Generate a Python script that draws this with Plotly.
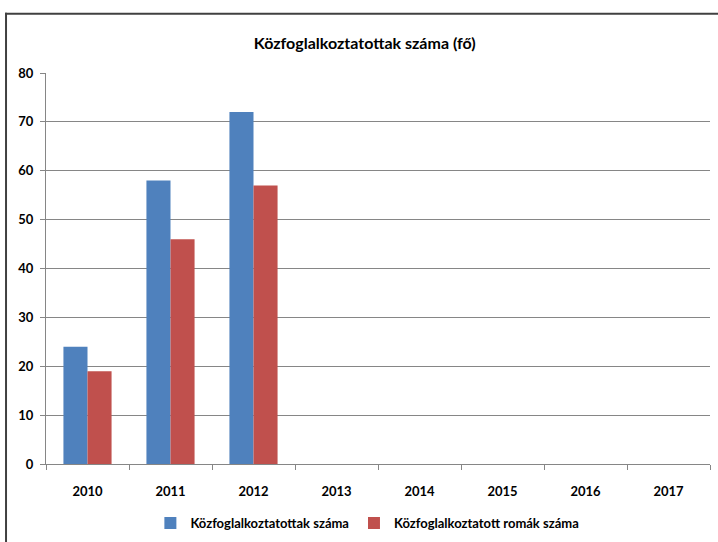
import plotly.graph_objects as go

# chart data
years = ['2010', '2011', '2012', '2013', '2014', '2015', '2016', '2017']
kozfogl = [24, 58, 72, None, None, None, None, None]      # Közfoglalkoztatottak száma
romak = [19, 46, 57, None, None, None, None, None]        # Közfoglalkoztatott romák száma

font_main = 'Lato, sans-serif'

fig = go.Figure()
fig.add_trace(go.Bar(x=years, y=kozfogl, name='<b>Közfoglalkoztatottak száma</b>',
                     marker=dict(color='#4F81BD', line=dict(width=0))))
fig.add_trace(go.Bar(x=years, y=romak, name='<b>Közfoglalkoztatott romák száma</b>',
                     marker=dict(color='#C0504D', line=dict(width=0))))

# chart frame (top and left edges show, the rest is cut off in the original)
frame = dict(type='rect', xref='paper', yref='paper', fillcolor='#404040',
             line=dict(width=0), layer='above')

fig.update_layout(
    width=718, height=542,
    margin=dict(l=46, r=8, t=73, b=78, autoexpand=False),
    paper_bgcolor='white', plot_bgcolor='white',
    barmode='group', bargap=0.42, bargroupgap=0,
    font=dict(family=font_main, size=13, color='black'),
    title=dict(text='<b>Közfoglalkoztatottak száma (fő)</b>',
               x=0.508, xanchor='center', y=1 - 43 / 542, yanchor='middle',
               font=dict(size=16, family=font_main)),
    legend=dict(orientation='h', x=0.484, xanchor='center', y=-0.151, yanchor='middle',
                font=dict(size=13), itemwidth=30, traceorder='normal'),
    xaxis=dict(type='category', showline=True, linecolor='#868686', linewidth=1,
               ticks='outside', tickson='boundaries', ticklen=5, tickcolor='#868686',
               tickfont=dict(size=13), showgrid=False, ticklabelstandoff=15,
               tickvals=years, ticktext=['<b>%s</b>' % y for y in years]),
    yaxis=dict(range=[0, 80], showline=True, linecolor='#868686', linewidth=1,
               ticks='outside', ticklen=5, tickcolor='#868686',
               gridcolor='#868686', gridwidth=1, tickfont=dict(size=13),
               zeroline=False, ticklabelstandoff=4,
               tickvals=list(range(0, 81, 10)),
               ticktext=['<b>%d</b>' % v for v in range(0, 81, 10)]),
    shapes=[dict(frame, x0=-0.0617, x1=1.02, y0=1.149, y1=1.154),
            dict(frame, x0=-0.0617, x1=-0.0587, y0=-0.3, y1=1.154)],
)

# drop the default page margin so the figure sits at the window's corner
fig.write_html('out.html', config={'displayModeBar': False},
               post_script="document.body.style.margin='0';")
